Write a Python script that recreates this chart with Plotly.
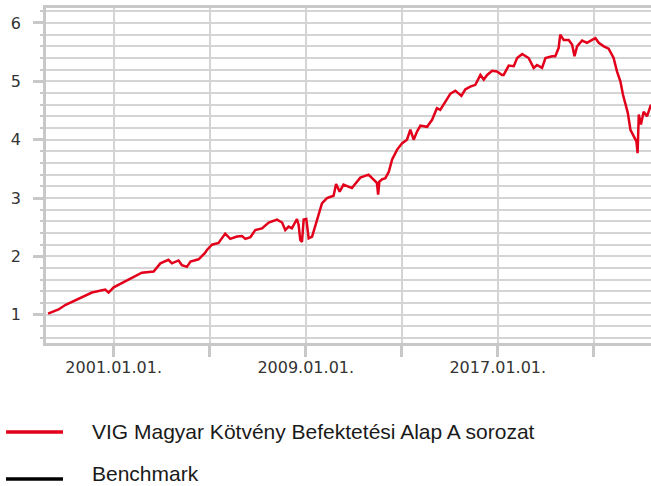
import plotly.graph_objects as go

series_name = "VIG Magyar Kötvény Befektetési Alap A sorozat"
benchmark_name = "Benchmark"

dates = [
    "1998-04-08", "1998-09-15", "1999-01-01", "1999-07-15", "2000-02-05", "2000-08-25",
    "2000-10-15", "2001-01-01", "2001-06-28", "2001-10-30", "2002-03-05", "2002-09-01",
    "2002-12-12", "2003-04-15", "2003-06-05", "2003-09-15", "2003-11-05", "2004-01-20",
    "2004-03-15", "2004-07-15", "2004-10-15", "2004-11-20", "2005-02-05", "2005-05-15",
    "2005-08-25", "2005-11-10", "2006-02-20", "2006-05-08", "2006-06-28", "2006-09-12",
    "2006-11-25", "2007-03-08", "2007-06-18", "2007-10-22", "2008-01-08", "2008-02-25",
    "2008-04-15", "2008-06-05", "2008-08-20", "2008-09-15", "2008-10-10", "2008-11-05",
    "2008-12-01", "2009-01-10", "2009-02-15", "2009-04-08", "2009-05-25", "2009-07-15",
    "2009-09-05", "2009-11-20", "2010-03-01", "2010-04-08", "2010-06-01", "2010-07-30",
    "2010-12-05", "2011-02-20", "2011-04-12", "2011-08-15", "2011-10-30", "2011-12-20",
    "2012-01-08", "2012-01-26", "2012-03-07", "2012-04-27", "2012-06-18", "2012-08-08",
    "2012-10-23", "2013-01-08", "2013-03-22", "2013-05-12", "2013-07-02", "2013-08-22",
    "2013-10-12", "2014-01-22", "2014-04-08", "2014-06-20", "2014-08-10", "2014-10-26",
    "2015-01-12", "2015-03-28", "2015-05-15", "2015-06-28", "2015-08-25", "2015-11-10",
    "2016-01-26", "2016-04-12", "2016-06-02", "2016-07-24", "2016-10-08", "2016-12-20",
    "2017-03-07", "2017-04-01", "2017-06-17", "2017-09-02", "2017-10-23", "2018-01-08",
    "2018-04-16", "2018-07-02", "2018-08-22", "2018-11-06", "2018-12-28", "2019-04-08",
    "2019-05-26", "2019-07-16", "2019-08-10", "2019-10-01", "2019-12-16", "2020-02-06",
    "2020-03-14", "2020-04-22", "2020-07-08", "2020-09-20", "2020-12-06", "2021-01-26",
    "2021-03-18", "2021-06-03", "2021-08-15", "2021-10-30", "2021-12-20", "2022-02-10",
    "2022-03-22", "2022-04-28", "2022-06-03", "2022-07-13", "2022-09-02", "2022-10-12",
    "2022-10-30", "2022-11-17", "2022-12-20", "2023-01-30", "2023-03-22", "2023-05-22",
]

values = [
    1.02, 1.09, 1.17, 1.27, 1.38, 1.43,
    1.38, 1.47, 1.57, 1.64, 1.72, 1.74,
    1.88, 1.94, 1.88, 1.93, 1.85, 1.82,
    1.91, 1.95, 2.05, 2.11, 2.20, 2.23,
    2.39, 2.30, 2.34, 2.35, 2.30, 2.33,
    2.45, 2.48, 2.58, 2.63, 2.58, 2.45,
    2.51, 2.48, 2.64, 2.54, 2.28, 2.25,
    2.63, 2.64, 2.31, 2.34, 2.51, 2.68,
    2.91, 3.00, 3.04, 3.24, 3.11, 3.23,
    3.17, 3.28, 3.35, 3.40, 3.31, 3.26,
    3.06, 3.28, 3.32, 3.34, 3.45, 3.66,
    3.83, 3.94, 4.00, 4.17, 4.00, 4.14,
    4.24, 4.22, 4.34, 4.54, 4.51, 4.66,
    4.79, 4.84, 4.80, 4.75, 4.86, 4.91,
    4.94, 5.11, 5.03, 5.11, 5.18, 5.17,
    5.11, 5.11, 5.27, 5.26, 5.40, 5.47,
    5.40, 5.23, 5.28, 5.23, 5.40, 5.43,
    5.43, 5.57, 5.80, 5.71, 5.71, 5.63,
    5.43, 5.60, 5.70, 5.66, 5.71, 5.74,
    5.66, 5.60, 5.56, 5.40, 5.17, 5.00,
    4.77, 4.60, 4.46, 4.17, 4.06, 3.97,
    3.77, 4.43, 4.26, 4.48, 4.40, 4.60,
]

x_tick_vals = ["2001-01-01", "2005-01-01", "2009-01-01", "2013-01-01", "2017-01-01", "2021-01-01"]
x_tick_text = ["2001.01.01.", "", "2009.01.01.", "", "2017.01.01.", ""]
y_tick_vals = [1, 2, 3, 4, 5, 6]

RED = "#e2001a"
GRID = "#d4d4d4"
AXIS = "#c8c8c8"

fig = go.Figure()
fig.add_trace(go.Scatter(x=dates, y=values, mode="lines", name=series_name,
                         line=dict(color=RED, width=2.5), showlegend=False))

fig.update_layout(
    width=651, height=486,
    margin=dict(l=46, r=0, t=8, b=143, pad=0, autoexpand=False),
    paper_bgcolor="white", plot_bgcolor="white",
    font=dict(family="DejaVu Sans", color="#333333"),
    xaxis=dict(
        type="date", range=["1998-03-08", "2023-05-22"], automargin=False,
        tickmode="array", tickvals=x_tick_vals, ticktext=x_tick_text,
        showgrid=True, gridcolor=GRID, gridwidth=2,
        showline=True, linecolor=AXIS, linewidth=2.5, mirror=True,
        ticks="outside", ticklen=11, tickwidth=2.5, tickcolor=AXIS,
        tickfont=dict(family="DejaVu Sans", size=16, color="#333333"),
        ticklabelstandoff=-3,
        zeroline=False,
    ),
    yaxis=dict(
        range=[0.515, 6.257], automargin=False,
        tickmode="array", tickvals=y_tick_vals,
        showgrid=True, gridcolor=GRID, gridwidth=1.5,
        showline=True, linecolor=AXIS, linewidth=2.5, mirror=False,
        ticks="outside", ticklen=10, tickwidth=2.5, tickcolor=AXIS,
        tickfont=dict(family="DejaVu Sans", size=16, color="#333333"),
        ticklabelstandoff=9,
        zeroline=False,
        minor=dict(dtick=0.2, tick0=1, showgrid=True, gridcolor=GRID, gridwidth=1.5,
                   ticks="outside", ticklen=3, tickwidth=2, tickcolor=AXIS),
    ),
)

# legend drawn below the plot
legend_items = [(series_name, RED, -0.2657, -0.263), (benchmark_name, "#000000", -0.406, -0.391)]
for name, color, yp, ytext in legend_items:
    fig.add_shape(type="line", xref="paper", yref="paper",
                  x0=-0.0661, x1=0.0281, y0=yp, y1=yp,
                  line=dict(color=color, width=3.5))
    fig.add_annotation(xref="paper", yref="paper", x=0.0727, y=ytext, text=name,
                       showarrow=False, xanchor="left", yanchor="middle",
                       font=dict(family="Liberation Sans", size=21, color="#1a1a1a"))

fig.write_html("out.html", config={"displayModeBar": False},
               post_script="document.body.style.margin='0';document.body.style.overflow='hidden';")
